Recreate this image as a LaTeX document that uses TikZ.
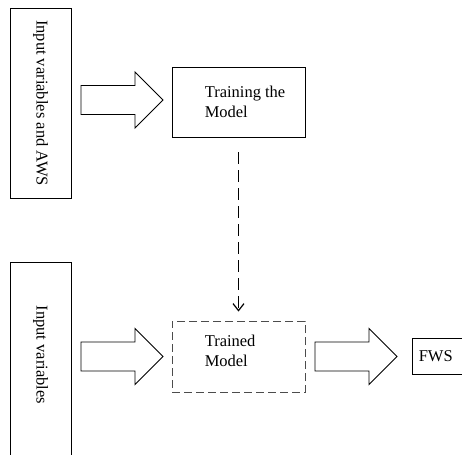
\documentclass[tikz,border=0pt]{standalone}
\usepackage{fontspec}
\setmainfont{Liberation Serif}
\usetikzlibrary{calc,arrows.meta}
\tikzset{
	box/.style={draw, line width=0.9pt, inner sep=0pt},
	dashbox/.style={draw=black!70, line width=0.9pt, dash pattern=on 8pt off 4pt, inner sep=0pt},
	txt/.style={align=left, inner sep=0pt, font=\fontsize{16.5}{20}\selectfont},
	pics/blockarrow/.style={code={
		\draw[line width=0.9pt, fill=white] (0,-14.5)--(54,-14.5)--(54,-28)--(82,0)--(54,28)--(54,14.5)--(0,14.5)--cycle;
	}}
}
\begin{document}
\begin{tikzpicture}[x=1pt, y=-1pt, line join=miter, >={Straight Barb[length=7pt,width=11pt]}]
			\useasboundingbox (0,0) rectangle (462,454);
			\clip (0,0) rectangle (462,454);
			% left column
			\node[box, minimum width=61pt, minimum height=190pt] (inaws) at (40.5,103) {};
			\node[txt, rotate=-90] (inawstxt) at (inaws.center) {Input variables and AWS};
			\node[box, minimum width=61pt, minimum height=210pt] (invar) at (40.5,367) {};
			\node[txt, rotate=-90] (invartxt) at (40.5,355) {Input variables};
			% model boxes
			\node[box, minimum width=133pt, minimum height=70pt] (train) at (238.5,102) {};
			\node[txt, anchor=west] (traintxt) at ([xshift=33pt]train.west) {Training the\\Model};
			\node[dashbox, minimum width=133pt, minimum height=71pt] (trained) at (238.5,356.5) {};
			\node[txt, anchor=west] (trainedtxt) at ($(trained.west)+(33,-6)$) {Trained\\Model};
			\node[box, minimum width=60pt, minimum height=36pt] (fws) at (442,356) {};
			\node[txt, anchor=west] (fwstxt) at ($(fws.west)+(7,0)$) {FWS};
			% block arrows
			\pic at (81,100) {blockarrow};
			\pic at (81,356.5) {blockarrow};
			\pic at (315,356.5) {blockarrow};
			\draw[->, line width=1.2pt, dash pattern=on 12pt off 6pt, shorten <=15pt, shorten >=9pt] (train.south) -- (trained.north);
		\end{tikzpicture}
\end{document}
